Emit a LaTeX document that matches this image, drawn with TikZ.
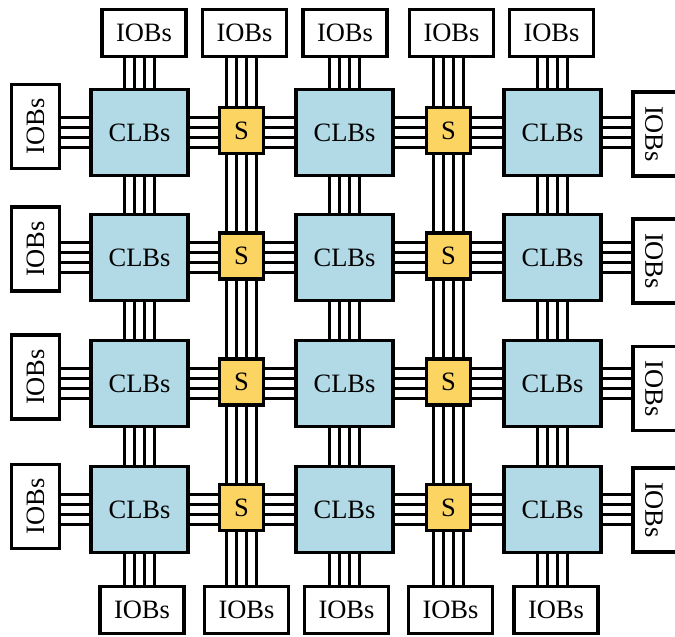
\documentclass[tikz,border=0pt]{standalone}
\usepackage{fontspec}
\setmainfont{Liberation Serif}
\usetikzlibrary{calc}
\definecolor{clbfill}{RGB}{178,218,230}
\definecolor{sfill}{RGB}{252,212,98}
\newcommand\hbus[3]{\foreach \d in {-15,-5,5,15}{\draw[bus] ($(#1.east |- #3.center)+(0,\d)$) -- ($(#2.west |- #3.center)+(0,\d)$);}}
\newcommand\vbus[3]{\foreach \d in {-15,-5,5,15}{\draw[bus] ($(#3.center |- #1.south)+(\d,0)$) -- ($(#3.center |- #2.north)+(\d,0)$);}}
\begin{document}
\begin{tikzpicture}[x=1pt,y=-1pt,
  box/.style={draw=black,line width=3.6pt,inner sep=0pt,font=\fontsize{26.5}{30}\selectfont},
  clb/.style={box,fill=clbfill,minimum width=97pt,minimum height=86pt},
  sw/.style={box,fill=sfill,minimum width=44pt,minimum height=46pt},
  iobh/.style={box,fill=white,minimum width=84pt,minimum height=47pt},
  iobv/.style={box,fill=white,minimum width=48pt,minimum height=84pt},
  iobr/.style={box,fill=white,minimum width=80pt,minimum height=84pt},
  bus/.style={line width=3.6pt,black}]
\useasboundingbox (0,0) rectangle (675,637);
\clip (0,0) rectangle (675,637);
% CLBs
\foreach \r/\y in {1/132.5,2/257.5,3/383.5,4/509.5}{
  \foreach \c/\x in {1/139.5,2/344.5,3/552.5}{
    \node[clb] (c\r\c) at (\x,\y) {CLBs};
  }
}
% switches
\foreach \r/\y in {1/130.5,2/256,3/382,4/507.5}{
  \foreach \c/\x in {1/241.5,2/448.5}{
    \node[sw] (s\r\c) at (\x,\y) {S};
  }
}
% top and bottom IOBs
\foreach \i/\x in {1/144,2/244.5,3/345,4/451.5,5/551.5}{
  \node[iobh] (t\i) at (\x,33) {IOBs};
}
\foreach \i/\x in {1/142,2/246.5,3/346.5,4/450.5,5/556}{
  \node[iobh] (b\i) at (\x,610) {IOBs};
}
% left and right IOBs
\foreach \i/\y in {1/126.5,2/249,3/377,4/506.5}{
  \node[iobv] (l\i) at (35.5,\y) {\rotatebox{90}{IOBs}};
}
\foreach \i/\y in {1/134,2/261,3/388.5,4/510}{
  \node[iobr] (r\i) at (673,\y) {\rotatebox{-90}{IOBs}\hspace*{38pt}};
}
% horizontal buses
\foreach \r in {1,2,3,4}{
  \hbus{l\r}{c\r1}{c\r1}
  \hbus{c\r1}{s\r1}{c\r1}
  \hbus{s\r1}{c\r2}{c\r2}
  \hbus{c\r2}{s\r2}{c\r2}
  \hbus{s\r2}{c\r3}{c\r3}
  \hbus{c\r3}{r\r}{c\r3}
}
% vertical buses, CLB columns
\foreach \c/\t in {1/1,2/3,3/5}{
  \vbus{t\t}{c1\c}{c1\c}
  \vbus{c1\c}{c2\c}{c1\c}
  \vbus{c2\c}{c3\c}{c1\c}
  \vbus{c3\c}{c4\c}{c1\c}
  \vbus{c4\c}{b\t}{c1\c}
}
% vertical buses, switch columns
\foreach \c/\t in {1/2,2/4}{
  \vbus{t\t}{s1\c}{s1\c}
  \vbus{s1\c}{s2\c}{s1\c}
  \vbus{s2\c}{s3\c}{s1\c}
  \vbus{s3\c}{s4\c}{s1\c}
  \vbus{s4\c}{b\t}{s1\c}
}
\end{tikzpicture}
\end{document}
